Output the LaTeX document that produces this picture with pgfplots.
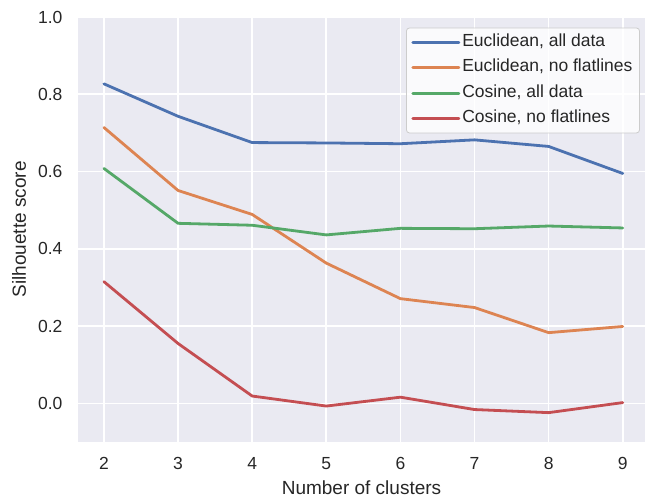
\documentclass[border=0pt]{standalone}
\usepackage{pgfplots}
\pgfplotsset{compat=1.18}
\usepackage{fontspec}
\setmainfont{Liberation Sans}

\definecolor{sbblue}{HTML}{4C72B0}
\definecolor{sborange}{HTML}{DD8452}
\definecolor{sbgreen}{HTML}{55A868}
\definecolor{sbred}{HTML}{C44E52}
\definecolor{sbbg}{HTML}{EAEAF2}
\definecolor{sbtext}{HTML}{262626}

\begin{document}
\begin{tikzpicture}
\useasboundingbox (-78pt,-56pt) rectangle (567pt,442pt);
\begin{axis}[
  scale only axis,
  width=567pt, height=425pt,
  xmin=1.65, xmax=9.3,
  ymin=-0.1, ymax=1.0,
  axis background/.style={fill=sbbg},
  axis line style={draw=none},
  xtick={2,3,4,5,6,7,8,9},
  ytick={0,0.2,0.4,0.6,0.8,1.0},
  major tick length=0pt,
  grid=major,
  major grid style={white, line width=1.6pt},
  /pgf/number format/assume math mode=true,
  yticklabel style={/pgf/number format/fixed, /pgf/number format/fixed zerofill, /pgf/number format/precision=1},
  tick label style={font=\fontsize{17.5}{20}\selectfont, text=sbtext},
  xticklabel style={yshift=-12pt},
  yticklabel style={xshift=-12pt},
  label style={font=\fontsize{19}{22}\selectfont, text=sbtext},
  xlabel={Number of clusters},
  ylabel={Silhouette score},
  xlabel style={at={(rel axis cs:0.5,0)}, anchor=base, yshift=-52pt},
  % the label is turned, so its own y direction points left
  ylabel style={at={(rel axis cs:0,0.5)}, anchor=base, yshift=52pt},
  legend style={
    at={(rel axis cs:0.991,0.975)}, anchor=north east,
    fill=white, fill opacity=0.8, text opacity=1, draw=black!20,
    rounded corners=3pt, line width=0.8pt,
    inner xsep=5pt, inner ysep=6pt,
    font=\fontsize{17.5}{20}\selectfont, text=sbtext,
    row sep=8.3pt,
    nodes={inner ysep=0pt, text height=12.6pt, text depth=4.4pt},
  },
  legend cell align=left,
  legend image code/.code={%
    \draw[#1, line width=2.8pt, line cap=butt] (0pt,0pt) -- (37pt,0pt);
    \path (0pt,0pt) -- (46pt,0pt);},
  every axis plot post/.append style={line width=2.8pt, line join=round, line cap=round},
]
\addplot[sbblue] coordinates {(2,0.827) (3,0.743) (4,0.675) (5,0.674) (6,0.672) (7,0.682) (8,0.665) (9,0.595)};
\addlegendentry{Euclidean, all data}
\addplot[sborange] coordinates {(2,0.714) (3,0.551) (4,0.489) (5,0.363) (6,0.271) (7,0.248) (8,0.183) (9,0.199)};
\addlegendentry{Euclidean, no flatlines}
\addplot[sbgreen] coordinates {(2,0.608) (3,0.466) (4,0.461) (5,0.436) (6,0.453) (7,0.452) (8,0.459) (9,0.454)};
\addlegendentry{Cosine, all data}
\addplot[sbred] coordinates {(2,0.315) (3,0.155) (4,0.019) (5,-0.007) (6,0.016) (7,-0.016) (8,-0.024) (9,0.002)};
\addlegendentry{Cosine, no flatlines}
\end{axis}
\end{tikzpicture}
\end{document}
